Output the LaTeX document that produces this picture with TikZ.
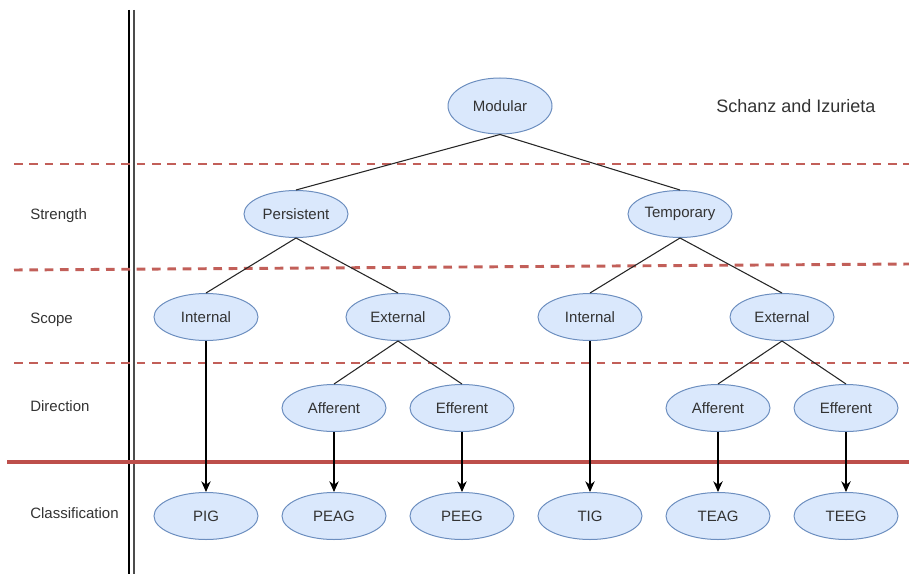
\documentclass[tikz,border=0pt]{standalone}
\usepackage{fontspec}
\setmainfont{Liberation Sans}
\usetikzlibrary{shapes.geometric,arrows.meta}
\definecolor{efill}{HTML}{DAE8FC}
\definecolor{edraw}{HTML}{6C8EBF}
\definecolor{dashred}{HTML}{C25F59}
\definecolor{solidred}{HTML}{BD4F4B}
\definecolor{txt}{HTML}{333333}
\tikzset{
  px/.style={x=0.75pt,y=-0.75pt},
  ell/.style={ellipse,draw=edraw,fill=efill,line width=0.75pt,minimum width=78pt,minimum height=35.25pt,inner sep=0pt,text=txt,font=\fontsize{11.25}{13}\selectfont},
  rowlabel/.style={anchor=west,text=txt,inner sep=0pt,font=\fontsize{11.25}{13}\selectfont},
  conn/.style={draw=black!85,line width=0.8pt},
  arr/.style={draw=black,line width=0.95pt,-{Stealth[length=8pt,width=7pt,inset=2.5pt]}},
  band/.style={draw=dashred,line width=2.2pt,dash pattern=on 6.5pt off 5pt},
}
\begin{document}
\begin{tikzpicture}[px]
\useasboundingbox (0,0) rectangle (909,574);
% vertical double line
\draw[black,line width=1pt] (129,10) -- (129,574);
\draw[black!70,line width=1pt] (134,10) -- (134,574);
% bands
\draw[band] (14,164) -- (909,164);
\draw[band] (14,270) -- (909,264);
\draw[band] (14,363) -- (909,363);
\draw[solidred,line width=3.6pt] (7,462) -- (909,462);
% row labels
\node[rowlabel] (lstr) at (30,216) {Strength};
\node[rowlabel] (lsco) at (30,320) {Scope};
\node[rowlabel] (ldir) at (30,406) {Direction};
\node[rowlabel] (lcls) at (30,513) {Classification};
\node[anchor=west,text=txt,inner sep=0pt,font=\fontsize{13.5}{16}\selectfont] (title) at (716,106) {Schanz and Izurieta};
% nodes
\node[ell,minimum height=42pt] (mod) at (500,106) {Modular};
\node[ell] (per) at (296,214) {Persistent};
\node[ell] (tem) at (680,214) {Temporary};
\node[ell] (pin) at (206,317) {Internal};
\node[ell] (pex) at (398,317) {External};
\node[ell] (tin) at (590,317) {Internal};
\node[ell] (tex) at (782,317) {External};
\node[ell] (paf) at (334,408) {Afferent};
\node[ell] (pef) at (462,408) {Efferent};
\node[ell] (taf) at (718,408) {Afferent};
\node[ell] (tef) at (846,408) {Efferent};
\node[ell] (pig) at (206,516) {PIG};
\node[ell] (peag) at (334,516) {PEAG};
\node[ell] (peeg) at (462,516) {PEEG};
\node[ell] (tig) at (590,516) {TIG};
\node[ell] (teag) at (718,516) {TEAG};
\node[ell] (teeg) at (846,516) {TEEG};
% connectors
\draw[conn] (mod.south) -- (per.north);
\draw[conn] (mod.south) -- (tem.north);
\draw[conn] (per.south) -- (pin.north);
\draw[conn] (per.south) -- (pex.north);
\draw[conn] (tem.south) -- (tin.north);
\draw[conn] (tem.south) -- (tex.north);
\draw[conn] (pex.south) -- (paf.north);
\draw[conn] (pex.south) -- (pef.north);
\draw[conn] (tex.south) -- (taf.north);
\draw[conn] (tex.south) -- (tef.north);
\draw[arr] (pin.south) -- (pig.north);
\draw[arr] (paf.south) -- (peag.north);
\draw[arr] (pef.south) -- (peeg.north);
\draw[arr] (tin.south) -- (tig.north);
\draw[arr] (taf.south) -- (teag.north);
\draw[arr] (tef.south) -- (teeg.north);
\end{tikzpicture}
\end{document}
